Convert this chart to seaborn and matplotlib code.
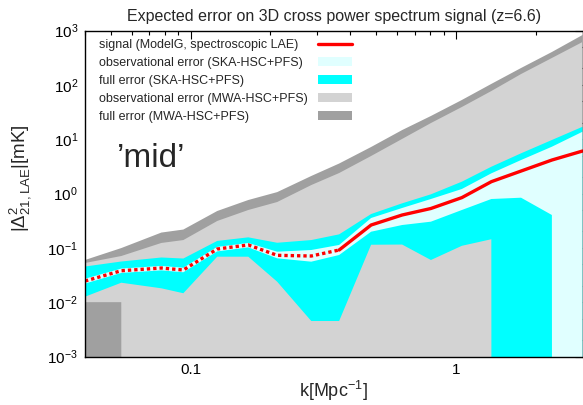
import numpy as np
import pandas as pd
import matplotlib
matplotlib.use('Agg')
import matplotlib.pyplot as plt
import seaborn as sns
from matplotlib.ticker import LogLocator, LogFormatterMathtext, FixedLocator, FixedFormatter, NullFormatter
from matplotlib.lines import Line2D
from matplotlib.patches import Patch

# ---- data ----
k = [0.04, 0.0548, 0.0776, 0.0939, 0.126, 0.165, 0.212, 0.285, 0.363,
     0.479, 0.627, 0.805, 1.053, 1.36, 1.76, 2.30, 3.0]
signal = [0.0245, 0.0379, 0.0425, 0.0391, 0.0951, 0.113, 0.0728, 0.0707, 0.0912,
          0.263, 0.402, 0.530, 0.84, 1.65, 2.59, 4.13, 6.05]
n_negative = 9  # first points: negative signal (plotted dotted)
ska_obs_hi = [0.027, 0.0415, 0.0465, 0.043, 0.104, 0.123, 0.0849, 0.0912, 0.113,
              0.354, 0.541, 0.792, 1.21, 2.35, 4.13, 7.26, 13.7]
ska_obs_lo = [0.022, 0.0345, 0.0385, 0.0355, 0.086, 0.102, 0.0641, 0.0556, 0.0738,
              0.198, 0.263, 0.303, 0.497, 0.792, 0.837, 0.402, 0.0]
ska_full_hi = [0.0453, 0.0560, 0.0664, 0.0636, 0.134, 0.156, 0.124, 0.139, 0.177,
               0.419, 0.659, 0.966, 1.65, 3.11, 5.49, 9.66, 16.9]
ska_full_lo = [0.0126, 0.0228, 0.0180, 0.0146, 0.0687, 0.0687, 0.0238, 0.0045, 0.0045,
               0.114, 0.115, 0.0597, 0.109, 0.144, 0.0, 0.0, 0.0]
mwa_obs_hi = [0.0526, 0.0707, 0.123, 0.139, 0.312, 0.497, 0.697, 1.43, 2.38,
              4.90, 10.1, 19.8, 39.1, 76.9, 158, 312, 614]
mwa_obs_lo = [0.01, 0.01, 0.0, 0.0, 0.0, 0.0, 0.0, 0.0, 0.0,
              0.0, 0.0, 0.0, 0.0, 0.0, 0.0, 0.0, 0.0]
mwa_full_hi = [0.0597, 0.099, 0.191, 0.217, 0.476, 0.759, 1.06, 2.10, 3.56,
               7.17, 14.7, 26.7, 52.6, 104, 204, 402, 826]
mwa_full_lo = [0.0] * 17

legend_labels = ['signal (ModelG, spectroscopic LAE)',
                 'observational error (SKA-HSC+PFS)',
                 'full error (SKA-HSC+PFS)',
                 'observational error (MWA-HSC+PFS)',
                 'full error (MWA-HSC+PFS)']
xtick_vals = [0.1, 1]
xtick_labels = ['0.1', '1']
ytick_vals = [1e-3, 1e-2, 1e-1, 1e0, 1e1, 1e2, 1e3]
title = 'Expected error on 3D cross power spectrum signal (z=6.6)'

# ---- style ----
sns.set_theme(style='white')
plt.rcParams['font.family'] = ['Liberation Sans', 'DejaVu Sans']
plt.rcParams['mathtext.fontset'] = 'custom'
plt.rcParams['mathtext.rm'] = 'Liberation Sans'
plt.rcParams['mathtext.it'] = 'Liberation Sans'
plt.rcParams['mathtext.bf'] = 'Liberation Sans:bold'
plt.rcParams['mathtext.default'] = 'regular'

C_RED = '#ff0000'
C_LCYAN = '#e0ffff'
C_CYAN = '#00ffff'
C_LGRAY = '#d3d3d3'
C_DGRAY = '#a0a0a0'

fig = plt.figure(figsize=(5.83, 4.05), dpi=100)
ax = fig.add_axes([85 / 583, 1 - 356.5 / 405, 497.5 / 583, 326 / 405])
ax.set_xscale('log')
ax.set_yscale('log')

ax.fill_between(k, mwa_full_lo, mwa_full_hi, color=C_DGRAY, lw=0)
ax.fill_between(k, mwa_obs_lo, mwa_obs_hi, color=C_LGRAY, lw=0)
ax.fill_between(k, ska_full_lo, ska_full_hi, color=C_CYAN, lw=0)
ax.fill_between(k, ska_obs_lo, ska_obs_hi, color=C_LCYAN, lw=0)

df_neg = pd.DataFrame({'k': k[:n_negative], 'signal': signal[:n_negative]})
df_pos = pd.DataFrame({'k': k[n_negative - 1:], 'signal': signal[n_negative - 1:]})
sns.lineplot(data=df_neg, x='k', y='signal', ax=ax, color=C_RED, lw=2.4,
             linestyle=(0, (1.0, 0.9)), dash_capstyle='butt', legend=False)
sns.lineplot(data=df_pos, x='k', y='signal', ax=ax, color=C_RED, lw=2.4,
             legend=False)

ax.set_xlim(0.04, 3.0)
ax.set_ylim(1e-3, 1e3)

# ticks
ax.xaxis.set_major_locator(FixedLocator(xtick_vals))
ax.xaxis.set_major_formatter(FixedFormatter(xtick_labels))
ax.xaxis.set_minor_locator(LogLocator(base=10, subs=np.arange(2, 10), numticks=50))
ax.xaxis.set_minor_formatter(NullFormatter())
ax.yaxis.set_major_locator(FixedLocator(ytick_vals))
ax.yaxis.set_major_formatter(LogFormatterMathtext())
ax.yaxis.set_minor_locator(LogLocator(base=10, subs=(2, 5), numticks=50))
ax.yaxis.set_minor_formatter(NullFormatter())
ax.tick_params(which='both', direction='in', top=True, right=True, colors='black',
               width=0.8)
ax.tick_params(which='major', length=6, labelsize=11, pad=5)
ax.tick_params(which='minor', length=3)
for s in ax.spines.values():
    s.set_color('black')
    s.set_linewidth(1.0)

ax.set_xlabel(r'k[Mpc$^{-1}$]', fontsize=13)
ax.set_ylabel(r'$|\Delta^{2}_{21,LAE}|[mK]$', fontsize=13.5)
ax.xaxis.set_label_coords(0.5, -0.07)
ax.yaxis.set_label_coords(-0.105, 0.548)
ax.set_title(title, fontsize=11.5, pad=7)

ax.text(0.064, 0.582, '\u2019mid\u2019', transform=ax.transAxes, fontsize=24,
        va='baseline', ha='left')

# legend: texts left-aligned, keys aligned on the right
blank = [Line2D([], [], alpha=0) for _ in legend_labels]
leg1 = ax.legend(handles=blank, labels=legend_labels, loc='upper left',
                 bbox_to_anchor=(0.028, 0.974), frameon=False, handlelength=0,
                 handletextpad=0, fontsize=9, labelspacing=0.48, borderpad=0,
                 borderaxespad=0, handleheight=0.75)
ax.add_artist(leg1)
keys = [Line2D([], [], color=C_RED, lw=2.4),
        Patch(facecolor=C_LCYAN, lw=0),
        Patch(facecolor=C_CYAN, lw=0),
        Patch(facecolor=C_LGRAY, lw=0),
        Patch(facecolor=C_DGRAY, lw=0)]
ax.legend(handles=keys, labels=[' '] * 5, loc='upper left',
          bbox_to_anchor=(0.468, 0.974), frameon=False, handlelength=2.7,
          handletextpad=0, fontsize=9, labelspacing=0.48, borderpad=0,
          borderaxespad=0, handleheight=0.75)

fig.savefig('out.png', dpi=100)
